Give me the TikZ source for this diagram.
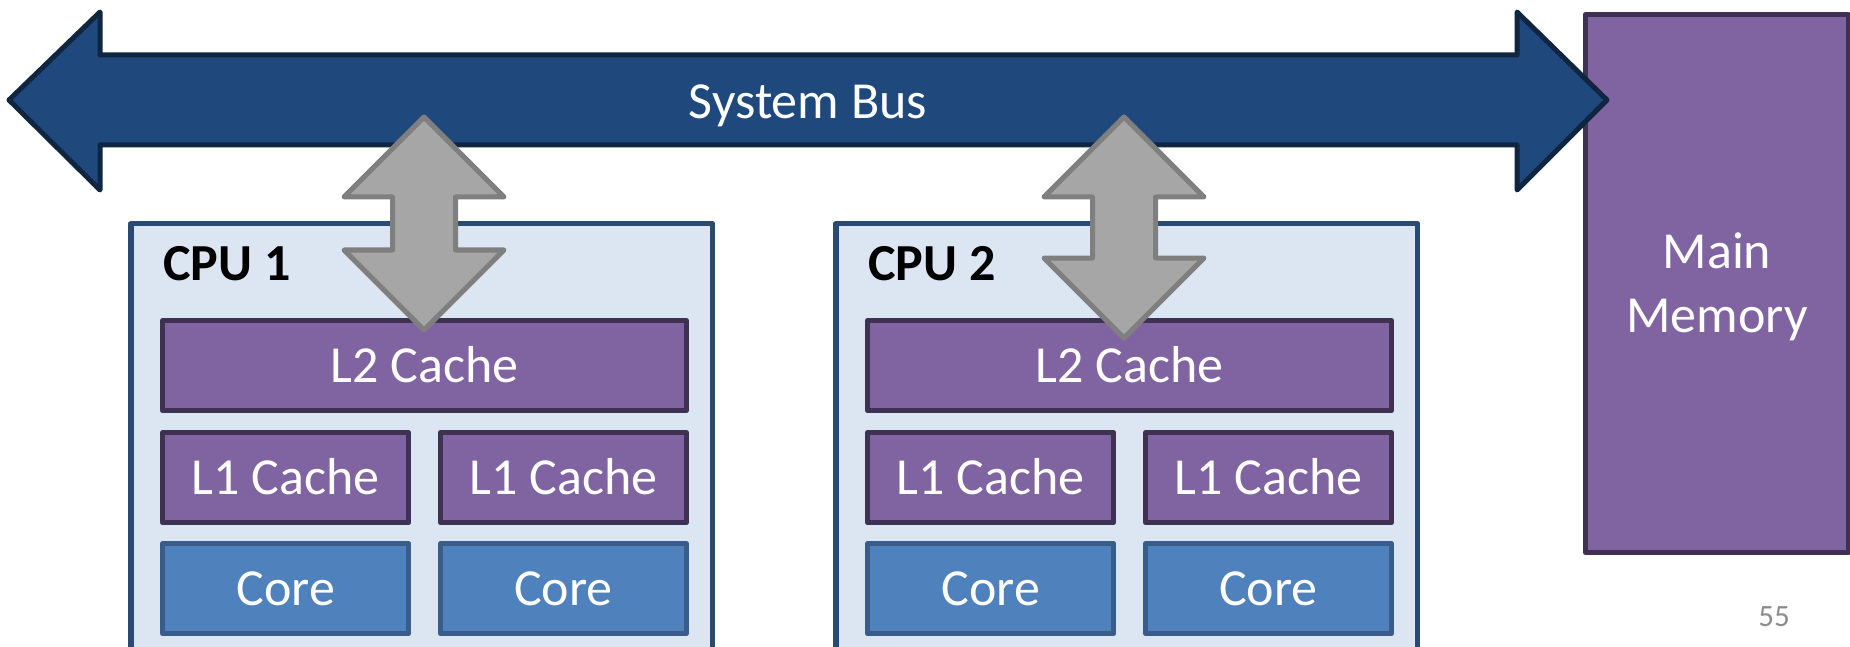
\documentclass[tikz,border=0pt]{standalone}
\usepackage{fontspec}
\setmainfont{Carlito}
\definecolor{busfill}{HTML}{1F497D}
\definecolor{busdraw}{HTML}{10253F}
\definecolor{memfill}{HTML}{8064A2}
\definecolor{memdraw}{HTML}{3F3151}
\definecolor{cpufill}{HTML}{DCE6F2}
\definecolor{cpudraw}{HTML}{284A73}
\definecolor{corefill}{HTML}{4F81BD}
\definecolor{coredraw}{HTML}{385D8A}
\definecolor{gfill}{HTML}{A6A6A6}
\definecolor{gdraw}{HTML}{7F7F7F}
\definecolor{pagenum}{HTML}{8C8C8C}
\begin{document}
\begin{tikzpicture}[x=1pt,y=-1pt,line join=round,
  bigtext/.style={font=\fontsize{52}{62}\selectfont},
  cpubox/.style={rectangle,draw=cpudraw,fill=cpufill,line width=5.5pt,anchor=north west,inner sep=0pt},
  cachebox/.style={rectangle,draw=memdraw,fill=memfill,line width=5.3pt,anchor=north west,inner sep=0pt,
     text=white,bigtext,text height=34pt,text depth=0pt},
  corebox/.style={rectangle,draw=coredraw,fill=corefill,line width=5.3pt,anchor=north west,inner sep=0pt,
     text=white,bigtext,text height=34pt,text depth=0pt},
  busarrow/.style={draw=busdraw,fill=busfill,line width=5pt},
  linkarrow/.style={draw=gdraw,fill=gfill,line width=5pt},
  cpulabel/.style={anchor=base west,inner sep=0pt,font=\fontsize{52}{62}\selectfont\bfseries}
]
\clip (0,0) rectangle (1850,647);
\fill[white] (0,0) rectangle (1850,647);

% main memory
\node[rectangle,draw=memdraw,fill=memfill,line width=5pt,anchor=north west,inner sep=0pt,
  minimum width=263pt,minimum height=538pt] (mem) at (1583,12) {};
\node[anchor=base,inner sep=0pt,text=white,bigtext] (memt1) at (mem.center |- 0,268) {Main};
\node[anchor=base,inner sep=0pt,text=white,bigtext] (memt2) at (mem.center |- 0,332) {Memory};

% system bus
\draw[busarrow] (9,100) -- (100,12) -- (100,55) -- (1517,55) -- (1517,12) -- (1607,100)
  -- (1517,190) -- (1517,145) -- (100,145) -- (100,190) -- cycle;
\node[anchor=base,inner sep=0pt,text=white,bigtext] (bus) at (808,119) {System Bus};

% CPU boxes
\foreach \n/\dx in {1/0,2/705}{
  \node[cpubox,minimum width=581.5pt,minimum height=440pt] (cpu\n) at (128+\dx,221) {};
  \node[cpulabel] (cpulab\n) at (163+\dx,280) {CPU \n};
  \node[cachebox,minimum width=523.5pt,minimum height=90pt] (l2-\n) at (160+\dx,318) {L2 Cache};
  \node[cachebox,minimum width=246pt,minimum height=90pt] (l1a-\n) at (160+\dx,430) {L1 Cache};
  \node[cachebox,minimum width=245.5pt,minimum height=90pt] (l1b-\n) at (438+\dx,430) {L1 Cache};
  \node[corebox,minimum width=246pt,minimum height=90pt] (corea-\n) at (160+\dx,541) {Core};
  \node[corebox,minimum width=245.5pt,minimum height=90pt] (coreb-\n) at (438+\dx,541) {Core};
}

% link arrows
\draw[linkarrow] (424,117) -- (504,197) -- (455.5,197) -- (455.5,250) -- (504,250) -- (424,330)
  -- (344,250) -- (392.5,250) -- (392.5,197) -- (344,197) -- cycle;
\draw[linkarrow] (1124,117) -- (1204,197) -- (1155.5,197) -- (1155.5,258) -- (1204,258) -- (1124,338)
  -- (1044,258) -- (1092.5,258) -- (1092.5,197) -- (1044,197) -- cycle;

% page number
\node[anchor=base,inner sep=0pt,text=pagenum,font=\fontsize{31}{37}\selectfont] (pnum) at (1774,626) {55};
\end{tikzpicture}
\end{document}
